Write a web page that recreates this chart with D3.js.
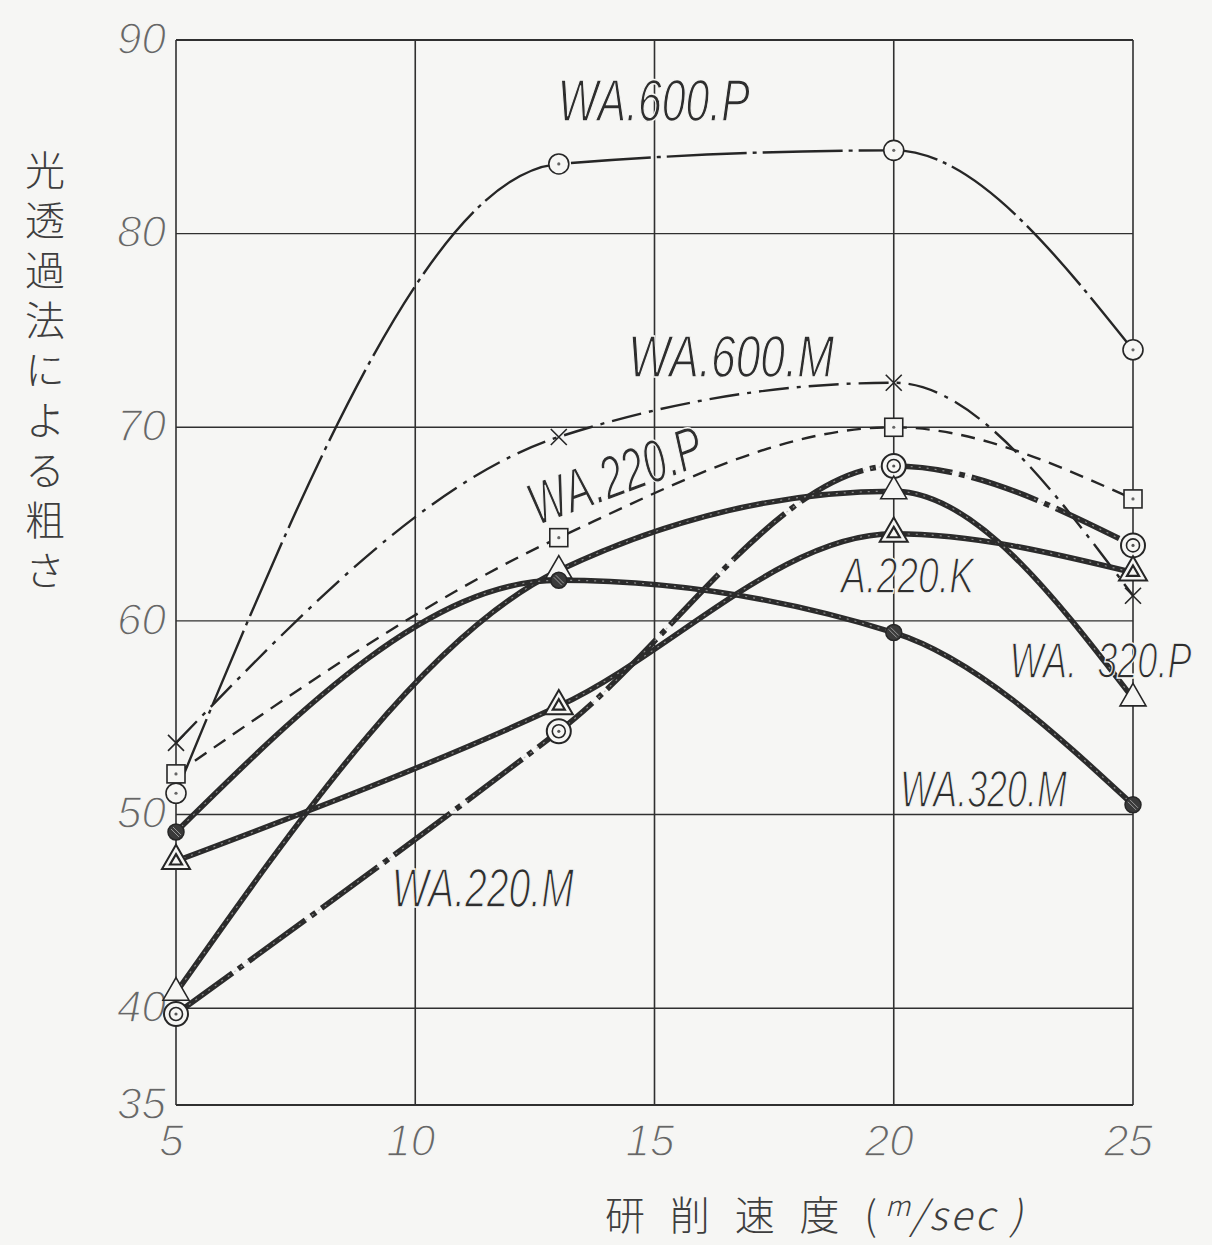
<!DOCTYPE html>
<html>
<head>
<meta charset="utf-8">
<script src="https://cdn.jsdelivr.net/npm/d3@7"></script>
<style>
  html, body { margin: 0; padding: 0; background: #f6f6f4; }
  svg { display: block; }
</style>
</head>
<body>
<svg id="chart"></svg>
<script>
// grinding speed (m/sec) at which every series was measured
const speeds = [5, 13, 20, 25];

// roughness by light transmission, one array per wheel
const wa600P = [51.1, 83.6, 84.3, 74.0];
const wa600M = [53.7, 69.5, 72.3, 61.3];
const wa220P = [52.1, 64.3, 70.0, 66.3];
const wa220M = [39.7, 54.3, 68.0, 63.9];
const a220K  = [47.6, 55.6, 64.5, 62.5];
const wa320P = [40.8, 62.6, 66.7, 56.0];
const wa320M = [49.1, 62.1, 59.4, 50.5];

const seriesNames = ["WA.600.P", "WA.600.M", "WA.220.P", "WA.220.M", "A.220.K", "WA.320.P", "WA.320.M"];
const seriesValues = [wa600P, wa600M, wa220P, wa220M, a220K, wa320P, wa320M];

const xTicks = [5, 10, 15, 20, 25];
const yTicks = [35, 40, 50, 60, 70, 80, 90];
const yTitle = "光透過法による粗さ";

// drawing style of each series (marker + line)
const styles = {
  "WA.600.P": {marker: "circle",  thick: false, dash: "80,6,4,6"},
  "WA.600.M": {marker: "cross",   thick: false, dash: "30,8,4,8"},
  "WA.220.P": {marker: "square",  thick: false, dash: "14,9"},
  "WA.220.M": {marker: "dcircle", thick: true,  dash: "70,7,6,7"},
  "A.220.K":  {marker: "tri2",    thick: true,  dash: null},
  "WA.320.P": {marker: "tri",     thick: true,  dash: null},
  "WA.320.M": {marker: "dot",     thick: true,  dash: null}
};

// where the hand lettered names sit (in data units)
const labelLayout = {
  "WA.600.P": {text: "WA.600.P",   x: 12.98, y: 85.8, size: 60, len: 192, rot: 0},
  "WA.600.M": {text: "WA.600.M",   x: 14.45, y: 72.6, size: 60, len: 206, rot: 0},
  "WA.220.P": {text: "WA.220.P",   x: 12.54, y: 64.9, size: 60, len: 182, rot: -20},
  "A.220.K":  {text: "A.220.K",    x: 18.9,  y: 61.45, size: 50, len: 133, rot: 0},
  "WA.320.P": {text: "WA.  320.P", x: 22.42, y: 57.05, size: 50, len: 182, rot: 0},
  "WA.320.M": {text: "WA.320.M",   x: 20.13, y: 50.4, size: 52, len: 167, rot: 0},
  "WA.220.M": {text: "WA.220.M",   x: 9.51,  y: 45.2, size: 55, len: 182, rot: 0}
};

var W = 1212, H = 1245;
var bg = "#f6f6f4";
var ink = "#262626";
var numFont = "'Liberation Sans Narrow', 'Liberation Sans', sans-serif";

var svg = d3.select("#chart").attr("width", W).attr("height", H);
svg.append("rect").attr("width", W).attr("height", H).attr("fill", bg);

var x = d3.scaleLinear().domain([5, 25]).range([176, 1133]);
var y = d3.scaleLinear().domain([35, 90]).range([1105, 40]);

// grid
var grid = svg.append("g").attr("class", "grid");
grid.selectAll(".gx").data(xTicks)
  .enter().append("line")
  .attr("x1", d => x(d)).attr("x2", d => x(d))
  .attr("y1", y(90)).attr("y2", y(35))
  .attr("stroke", "#303030").attr("stroke-width", 1.6);
grid.selectAll(".gy").data(yTicks)
  .enter().append("line")
  .attr("y1", d => y(d)).attr("y2", d => y(d))
  .attr("x1", x(5)).attr("x2", x(25))
  .attr("stroke", "#303030").attr("stroke-width", d => (d === 35 || d === 90) ? 2 : 1.4);

// tick labels
var yAxis = svg.append("g")
  .attr("transform", `translate(${x(5)},0)`)
  .call(d3.axisLeft(y).tickValues(yTicks).tickSize(0).tickPadding(10));
var xAxis = svg.append("g")
  .attr("transform", `translate(0,${y(35)})`)
  .call(d3.axisBottom(x).tickValues(xTicks).tickSize(0).tickPadding(20));
[yAxis, xAxis].forEach(g => {
  g.select(".domain").remove();
  g.selectAll("text")
    .style("font-family", numFont)
    .style("font-style", "italic")
    .style("font-size", "44px")
    .attr("fill", "#666")
    .attr("stroke", bg)
    .attr("stroke-width", 1.4);
});
yAxis.selectAll("text").attr("dy", "0.3em");
xAxis.selectAll("text").attr("dx", -5);

// y title, written top to bottom
svg.append("text")
  .attr("x", 45).attr("y", 150)
  .style("writing-mode", "vertical-rl")
  .style("font-family", "'Noto Sans CJK JP', sans-serif")
  .style("font-size", "40px")
  .style("font-weight", 300)
  .style("letter-spacing", "10px")
  .attr("fill", "#3e3e3e")
  .text(yTitle);

// x title
var xt = svg.append("text")
  .attr("x", 815).attr("y", 1230)
  .attr("text-anchor", "middle")
  .style("font-family", "'Noto Sans CJK JP', sans-serif")
  .style("font-size", "40px")
  .style("font-weight", 300)
  .attr("fill", "#3e3e3e");
xt.append("tspan").text("研 削 速 度 (").style("letter-spacing", "8px");
xt.append("tspan").text("m").attr("dy", -14).style("font-size", "28px").style("font-style", "italic");
xt.append("tspan").text("/sec )").attr("dy", 14).style("font-style", "italic").style("letter-spacing", "3px");

// lines
var curve = d3.line()
  .x((d, i) => x(speeds[i]))
  .y(d => y(d))
  .curve(d3.curveMonotoneX);

var lines = svg.append("g").attr("class", "lines");
seriesNames.forEach((name, k) => {
  var st = styles[name];
  var vals = seriesValues[k];
  if (st.thick) {
    lines.append("path")
      .attr("d", curve(vals))
      .attr("fill", "none")
      .attr("stroke", "#2b2b2b")
      .attr("stroke-width", 5.5)
      .attr("stroke-dasharray", st.dash);
    lines.append("path")
      .attr("d", curve(vals))
      .attr("fill", "none")
      .attr("stroke", "#b0b0b0")
      .attr("stroke-width", 1.2)
      .attr("stroke-dasharray", "2,6")
      .attr("opacity", 0.7);
  } else {
    lines.append("path")
      .attr("d", curve(vals))
      .attr("fill", "none")
      .attr("stroke", ink)
      .attr("stroke-width", 2.4)
      .attr("stroke-dasharray", st.dash);
  }
});

// markers
function triPath(s) {
  var h = s * Math.sqrt(3) / 2;
  return `M0,${-2 * h / 3}L${s / 2},${h / 3}L${-s / 2},${h / 3}Z`;
}
var marks = svg.append("g").attr("class", "markers");
seriesNames.forEach((name, k) => {
  var st = styles[name];
  seriesValues[k].forEach((v, i) => {
    var g = marks.append("g").attr("transform", `translate(${x(speeds[i])},${y(v)})`);
    if (st.marker === "circle") {
      g.append("circle").attr("r", 10).attr("fill", bg).attr("stroke", ink).attr("stroke-width", 1.6);
      g.append("circle").attr("r", 1.6).attr("fill", "#666");
    } else if (st.marker === "cross") {
      g.append("path").attr("d", "M-8,-8L8,8M-8,8L8,-8").attr("stroke", ink).attr("stroke-width", 1.6);
    } else if (st.marker === "square") {
      g.append("rect").attr("x", -9).attr("y", -9).attr("width", 18).attr("height", 18)
        .attr("fill", bg).attr("stroke", ink).attr("stroke-width", 1.6);
      g.append("circle").attr("r", 1.6).attr("fill", "#666");
    } else if (st.marker === "dcircle") {
      g.append("circle").attr("r", 12).attr("fill", bg).attr("stroke", ink).attr("stroke-width", 2);
      g.append("circle").attr("r", 6.5).attr("fill", "none").attr("stroke", ink).attr("stroke-width", 1.6);
      g.append("circle").attr("r", 1.6).attr("fill", "#555");
    } else if (st.marker === "tri2") {
      g.append("path").attr("d", triPath(28)).attr("fill", bg).attr("stroke", ink).attr("stroke-width", 2);
      g.append("path").attr("d", triPath(12)).attr("fill", "none").attr("stroke", ink).attr("stroke-width", 2.2);
    } else if (st.marker === "tri") {
      g.append("path").attr("d", triPath(26)).attr("fill", bg).attr("stroke", ink).attr("stroke-width", 1.6);
    } else if (st.marker === "dot") {
      g.append("circle").attr("r", 8).attr("fill", "#3a3a3a").attr("stroke", ink).attr("stroke-width", 1.5);
      g.append("path").attr("d", "M-5,-3L3,5M-3,-5L5,3").attr("stroke", "#999").attr("stroke-width", 1);
    }
  });
});

// series names, squeezed sideways to the hand lettered width
var labels = svg.append("g").attr("class", "labels");
seriesNames.forEach(name => {
  var L = labelLayout[name];
  var px = x(L.x), py = y(L.y);
  var t = labels.append("text")
    .style("white-space", "pre")
    .style("font-family", numFont)
    .style("font-style", "italic")
    .style("font-size", L.size + "px")
    .attr("fill", "#2e2e2e")
    .attr("stroke", bg)
    .attr("stroke-width", 1.4)
    .text(L.text);
  var natural = t.node().getComputedTextLength();
  var sx = L.len / natural;
  t.attr("transform", `translate(${px},${py}) rotate(${L.rot}) scale(${sx},1)`);
});
</script>
</body>
</html>
